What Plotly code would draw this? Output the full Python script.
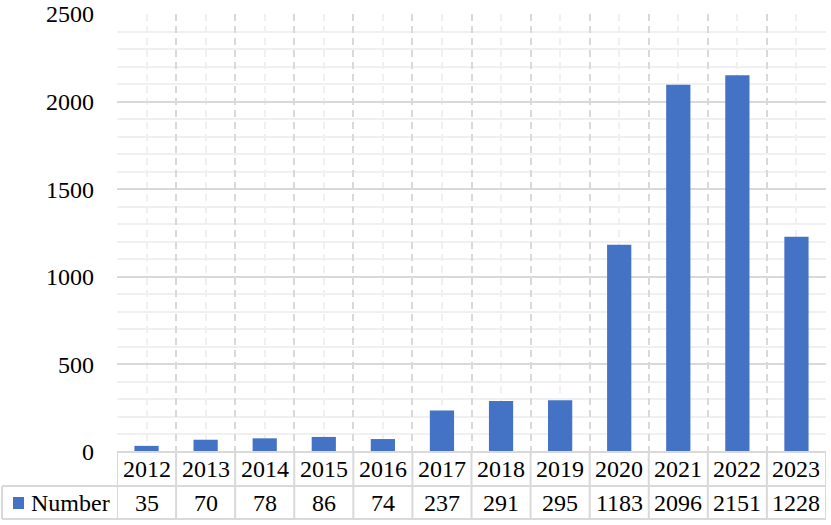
import plotly.graph_objects as go

years = ["2012", "2013", "2014", "2015", "2016", "2017", "2018", "2019", "2020", "2021", "2022", "2023"]
numbers = [35, 70, 78, 86, 74, 237, 291, 295, 1183, 2096, 2151, 1228]
series_name = "Number"

W, H = 831, 525
L, R, T, B = 117, 5, 14, 73
plot_w = W - L - R
plot_h = H - T - B
zero_px = H - B

def yp(py):
    return (zero_px - py) / plot_h

def xp(px):
    return (px - L) / plot_w

FONT = "Liberation Serif, Times New Roman, serif"
BLUE = "#4472C4"
GRID = "#d9d9d9"
MINOR = "#f0f0f0"

n = len(years)
xs = list(range(n))

fig = go.Figure(go.Bar(x=xs, y=numbers, marker=dict(color=BLUE, line=dict(width=0)),
                       name=series_name, showlegend=False))

shapes = []
# table horizontal lines
shapes.append(dict(type="line", xref="paper", yref="paper", x0=0, x1=1, y0=yp(zero_px), y1=yp(zero_px),
                   line=dict(color=GRID, width=2)))
for py in (486, 519):
    shapes.append(dict(type="line", xref="paper", yref="paper", x0=xp(2), x1=1, y0=yp(py), y1=yp(py),
                       line=dict(color=GRID, width=2)))
# table vertical lines
for i in range(n + 1):
    shapes.append(dict(type="line", xref="x", yref="paper", x0=i - 0.5, x1=i - 0.5,
                       y0=yp(zero_px), y1=yp(519), line=dict(color=GRID, width=2)))
shapes.append(dict(type="line", xref="paper", yref="paper", x0=xp(2), x1=xp(2),
                   y0=yp(486), y1=yp(519), line=dict(color=GRID, width=2)))
# legend key
shapes.append(dict(type="rect", xref="paper", yref="paper", x0=xp(13), x1=xp(24),
                   y0=yp(509), y1=yp(497), fillcolor=BLUE, line=dict(width=0)))

annotations = []
for i, (yr, v) in enumerate(zip(years, numbers)):
    annotations.append(dict(x=i, y=yp(469), xref="x", yref="paper", text=yr, showarrow=False,
                            xanchor="center", yanchor="middle", font=dict(family=FONT, size=24, color="black")))
    annotations.append(dict(x=i, y=yp(503), xref="x", yref="paper", text=str(v), showarrow=False,
                            xanchor="center", yanchor="middle", font=dict(family=FONT, size=24, color="black")))
annotations.append(dict(x=xp(29), y=yp(503), xref="paper", yref="paper", text=series_name, showarrow=False,
                        xanchor="left", yanchor="middle", font=dict(family=FONT, size=24, color="black")))

fig.update_layout(
    width=W, height=H,
    margin=dict(l=L, r=R, t=T, b=B, pad=0, autoexpand=False),
    paper_bgcolor="white", plot_bgcolor="white",
    font=dict(family=FONT, size=24, color="black"),
    bargap=0.59,
    shapes=shapes,
    annotations=annotations,
    xaxis=dict(range=[-0.5, n - 0.5], showticklabels=False, ticks="",
               tickmode="linear", tick0=-0.5, dtick=1,
               showgrid=True, gridcolor=GRID, griddash="7px,5px", gridwidth=2,
               minor=dict(tickmode="linear", tick0=0, dtick=1, showgrid=True, gridcolor=MINOR, gridwidth=1.5),
               zeroline=False, showline=False, fixedrange=True, automargin=False),
    yaxis=dict(range=[0, 2500], tickmode="linear", tick0=0, dtick=500,
               showgrid=True, gridcolor=GRID, gridwidth=2,
               minor=dict(tickmode="linear", tick0=0, dtick=100, showgrid=True, gridcolor=MINOR, gridwidth=1.5),
               zeroline=False, showline=False, ticks="", ticklabelstandoff=22,
               tickfont=dict(family=FONT, size=24, color="black"), fixedrange=True, automargin=False),
)

fig.write_html("out.html", config={"displayModeBar": False},
               post_script="document.body.style.margin='0';document.body.style.padding='0';")
